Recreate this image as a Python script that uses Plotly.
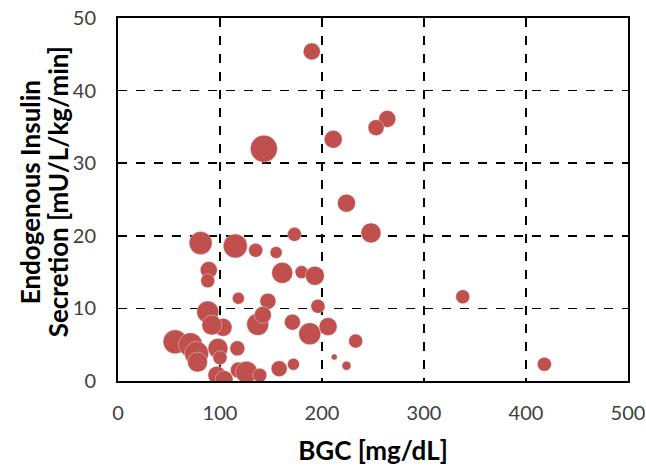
import plotly.graph_objects as go

bgc = [190, 264, 253, 211, 143, 224, 248, 81, 115, 135, 155, 173, 89, 88, 161, 180, 193,
       118, 147, 196, 88, 103, 92, 137, 142, 171, 188, 206, 233, 338, 418, 212, 224, 172,
       158, 56, 71, 77, 78, 98, 117, 100, 97, 118, 126, 139, 104]
eis = [45.4, 36.1, 34.9, 33.3, 32.0, 24.5, 20.4, 19.0, 18.6, 18.0, 17.7, 20.2, 15.3, 13.8,
       14.9, 15.0, 14.5, 11.4, 11.0, 10.3, 9.5, 7.4, 7.7, 7.8, 9.1, 8.1, 6.5, 7.5, 5.5, 11.6,
       2.3, 3.3, 2.1, 2.3, 1.7, 5.4, 5.0, 3.8, 2.6, 4.5, 4.5, 3.2, 0.8, 1.5, 1.2, 0.8, 0.2]
bubble = [17, 17, 16, 18, 27, 18, 20, 23, 24, 14, 12, 14, 17, 14, 21, 13, 19, 12, 16, 14,
          22, 18, 20, 22, 17, 16, 22, 18, 14, 14, 14, 6, 9, 12, 16, 24, 24, 24, 20, 20, 15,
          14, 18, 16, 22, 14, 18]

x_ticks = [0, 100, 200, 300, 400, 500]
y_ticks = [0, 10, 20, 30, 40, 50]
x_title = "BGC [mg/dL]"
y_title_lines = ["Endogenous Insulin", "Secretion [mU/L/kg/min]"]

fig = go.Figure(go.Scatter(
    x=bgc, y=eis, mode="markers",
    marker=dict(size=bubble, sizemode="diameter", color="#C0504D",
                line=dict(width=0.6, color="rgba(255,255,255,0.6)"), opacity=1),
    showlegend=False, cliponaxis=True, hoverinfo="skip"))

font = "Lato, Open Sans, sans-serif"
fig.update_layout(
    width=646, height=470,
    margin=dict(l=118, r=18, t=18, b=89),
    paper_bgcolor="white", plot_bgcolor="white",
    font=dict(family=font, color="black", size=20),
    xaxis=dict(range=[0, 500], tickvals=x_ticks, showgrid=True, gridcolor="black",
               griddash="dash", gridwidth=1.6, zeroline=False, showline=True,
               linecolor="black", linewidth=2, mirror=True, ticks="", automargin=False,
               tickfont=dict(size=20, color="#404040"), ticklabelstandoff=13,
               title=dict(text="<b>" + x_title + "</b>", font=dict(size=26), standoff=19)),
    yaxis=dict(range=[0, 50], tickvals=y_ticks, showgrid=True, gridcolor="black",
               griddash="dash", gridwidth=1.6, zeroline=False, showline=True,
               linecolor="black", linewidth=2, mirror=True, ticks="", automargin=False,
               tickfont=dict(size=20, color="#404040"), ticklabelstandoff=16),
)

for xp, line in zip([-0.1725, -0.1176], y_title_lines):
    fig.add_annotation(text="<b>" + line + "</b>", xref="paper", yref="paper",
                       x=xp, y=0.52, xanchor="center", yanchor="middle",
                       textangle=-90, showarrow=False, font=dict(size=26, color="black"))

fig.write_html("out.html", config={"displayModeBar": False, "staticPlot": True},
               post_script="document.body.style.margin='0';")
